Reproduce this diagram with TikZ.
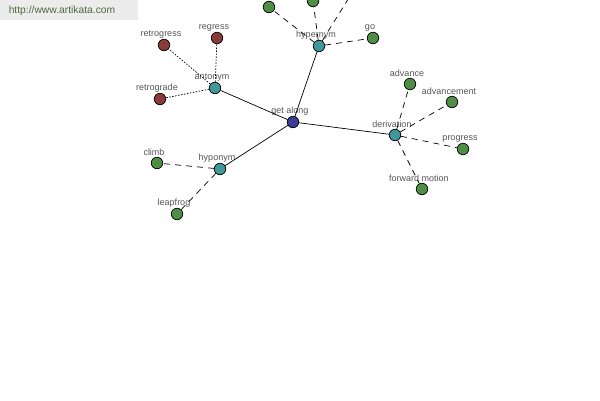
\documentclass[tikz,border=0pt]{standalone}
\usepackage{fontspec}
\setmainfont{Liberation Sans}
\definecolor{hubblue}{RGB}{60,60,150}
\definecolor{relteal}{RGB}{64,152,154}
\definecolor{wordgreen}{RGB}{78,143,69}
\definecolor{wordred}{RGB}{139,58,58}
\definecolor{labelgray}{RGB}{85,85,85}
\definecolor{headgray}{RGB}{236,236,236}
\definecolor{headtext}{RGB}{77,107,58}
\begin{document}
\begin{tikzpicture}
  [x=1pt,y=-1pt,
   term/.style={circle,draw=black,line width=0.7pt,minimum size=11.5pt,inner sep=0pt},
   every label/.style={text=labelgray,font=\fontsize{9}{9}\selectfont,inner sep=0pt,xshift=-3pt},
   label distance=0.8pt]
  \useasboundingbox (0,0) rectangle (600,400);
  \clip (0,0) rectangle (600,400);
  \fill[headgray] (0,0) rectangle (138,20);
  \node (site)[text=headtext,font=\fontsize{10.3}{11}\selectfont,inner sep=0pt] at (62,11) {http://www.artikata.com};
  % centre and relations
  \node (ga)[term,fill=hubblue,label=above:get along] at (293,122) {};
  \node (hyper)[term,fill=relteal,label=above:hypernym] at (319,46) {};
  \node (anto)[term,fill=relteal,label=above:antonym] at (215,88) {};
  \node (hypo)[term,fill=relteal,label=above:hyponym] at (220,169) {};
  \node (deri)[term,fill=relteal,label=above:derivation] at (395,135) {};
  % words
  \node (h1)[term,fill=wordgreen] at (269,7) {};
  \node (h2)[term,fill=wordgreen] at (313,1) {};
  \node (h3)[term,fill=wordgreen] at (355,-12) {};
  \node (go)[term,fill=wordgreen,label=above:go] at (373,38) {};
  \node (retrogress)[term,fill=wordred,label=above:retrogress] at (164,45) {};
  \node (regress)[term,fill=wordred,label=above:regress] at (217,38) {};
  \node (retrograde)[term,fill=wordred,label=above:retrograde] at (160,99) {};
  \node (climb)[term,fill=wordgreen,label=above:climb] at (157,163) {};
  \node (leapfrog)[term,fill=wordgreen,label=above:leapfrog] at (177,214) {};
  \node (advance)[term,fill=wordgreen,label=above:advance] at (410,84) {};
  \node (advancement)[term,fill=wordgreen,label=above:advancement] at (452,102) {};
  \node (progress)[term,fill=wordgreen,label=above:progress] at (463,149) {};
  \node (fwd)[term,fill=wordgreen,label=above:forward motion] at (422,189) {};
 \foreach \from/\to in {ga/hyper,ga/anto,ga/hypo,ga/deri}
    \draw[line width=0.7pt] (\from) -- (\to);
 \foreach \from/\to in {hyper/h1,hyper/h2,hyper/h3,hyper/go,hypo/climb,hypo/leapfrog,deri/advance,deri/advancement,deri/progress,deri/fwd}
    \draw[line width=0.7pt,dash pattern=on 6pt off 5pt] (\from) -- (\to);
 \foreach \from/\to in {anto/retrogress,anto/regress,anto/retrograde}
    \draw[line width=0.7pt,dash pattern=on 1.5pt off 1.5pt] (\from) -- (\to);
\end{tikzpicture}
\end{document}
